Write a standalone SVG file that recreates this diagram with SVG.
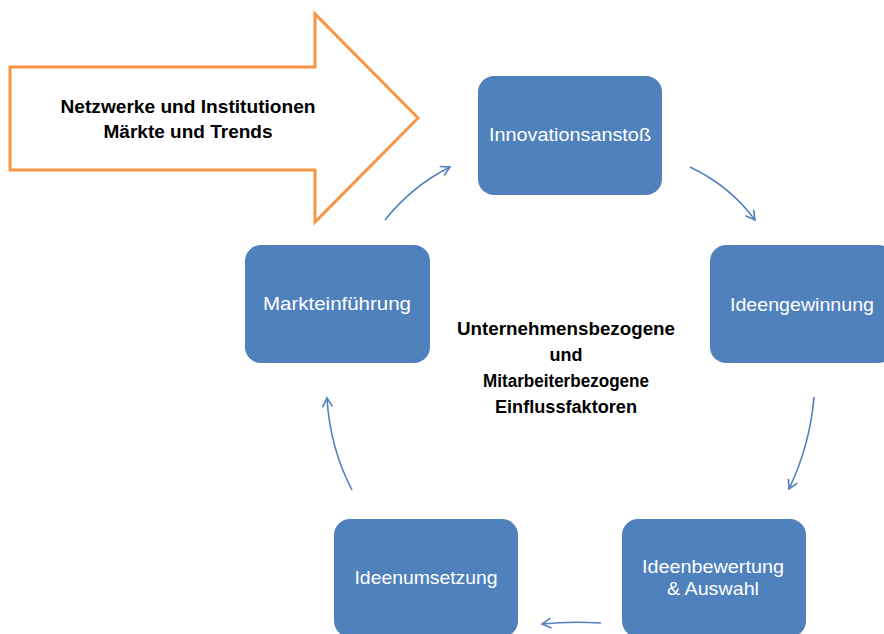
<svg xmlns="http://www.w3.org/2000/svg" width="884" height="634" viewBox="0 0 884 634">
  <defs>
    <style>
      .node rect { fill: #4F81BD; }
      .node text { fill: #FFFFFF; font-family: "Liberation Sans", "Open Sans", sans-serif; font-size: 19px; text-anchor: middle; }
      .bold { fill: #000000; font-family: "Liberation Sans", "Open Sans", sans-serif; font-size: 18px; font-weight: bold; text-anchor: middle; }
      .conn path { fill: none; stroke: #4F81BD; stroke-width: 1.6; marker-end: url(#open); }
    </style>
    <marker id="open" viewBox="0 0 12 12" refX="10" refY="6" markerWidth="12" markerHeight="12" markerUnits="userSpaceOnUse" orient="auto">
      <path d="M1,1 L10,6 L1,11" fill="none" stroke="#4F81BD" stroke-width="1.6"/>
    </marker>
  </defs>

  <rect width="884" height="634" fill="#FFFFFF"/>

  <!-- external influences arrow -->
  <g id="influences">
    <polygon points="10,67 315,67 315,14 418,118 315,222 315,170 10,170" fill="#FFFFFF" stroke="#F79646" stroke-width="3" stroke-linejoin="miter"/>
    <text class="bold" x="188" y="113" textLength="255" lengthAdjust="spacingAndGlyphs">Netzwerke und Institutionen</text>
    <text class="bold" x="188" y="138" textLength="169" lengthAdjust="spacingAndGlyphs">Märkte und Trends</text>
  </g>

  <!-- cycle connectors -->
  <g id="connectors" class="conn">
    <path d="M385,220 Q412,186 450,167"/>
    <path d="M690,167 Q730,186 755,220"/>
    <path d="M814,397 Q810,445 789,489"/>
    <path d="M601,623 Q570,621 542,624"/>
    <path d="M352,490 Q330,448 327,398"/>
  </g>

  <g id="innovationsanstoss" class="node">
    <rect x="478" y="76" width="184" height="119" rx="16"/>
    <text x="570" y="141" textLength="162" lengthAdjust="spacingAndGlyphs">Innovationsanstoß</text>
  </g>

  <g id="ideengewinnung" class="node">
    <rect x="710" y="245" width="184" height="118" rx="16"/>
    <text x="802" y="311" textLength="144" lengthAdjust="spacingAndGlyphs">Ideengewinnung</text>
  </g>

  <g id="ideenbewertung" class="node">
    <rect x="622" y="519" width="184" height="118" rx="16"/>
    <text x="713" y="573" textLength="142" lengthAdjust="spacingAndGlyphs">Ideenbewertung</text>
    <text x="713" y="595" textLength="92" lengthAdjust="spacingAndGlyphs">&amp; Auswahl</text>
  </g>

  <g id="ideenumsetzung" class="node">
    <rect x="334" y="519" width="184" height="118" rx="16"/>
    <text x="426" y="584" textLength="143" lengthAdjust="spacingAndGlyphs">Ideenumsetzung</text>
  </g>

  <g id="markteinfuehrung" class="node">
    <rect x="245" y="245" width="185" height="118" rx="16"/>
    <text x="337" y="310" textLength="148" lengthAdjust="spacingAndGlyphs">Markteinführung</text>
  </g>

  <!-- internal factors in the middle of the cycle -->
  <g id="einflussfaktoren">
    <text class="bold" x="566" y="335" textLength="218" lengthAdjust="spacingAndGlyphs">Unternehmensbezogene</text>
    <text class="bold" x="566" y="361" textLength="33" lengthAdjust="spacingAndGlyphs">und</text>
    <text class="bold" x="566" y="387" textLength="166" lengthAdjust="spacingAndGlyphs">Mitarbeiterbezogene</text>
    <text class="bold" x="566" y="413" textLength="142" lengthAdjust="spacingAndGlyphs">Einflussfaktoren</text>
  </g>
</svg>
